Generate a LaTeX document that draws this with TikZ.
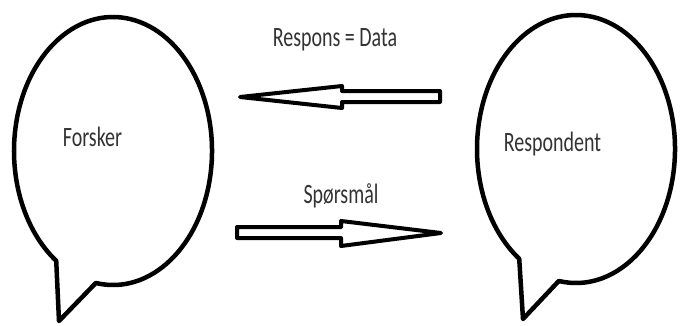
\documentclass[tikz,border=0pt]{standalone}
\usepackage{fontspec}
\usepackage{graphicx}
\setmainfont{Carlito}
\tikzset{
  bubble/.style={draw=black, line width=4.5pt, line join=round, fill=white},
  fatarrow/.style={draw=black, line width=4pt, line join=round, fill=white},
  lbl/.style={anchor=base, inner sep=0pt, text=black!80, font=\fontsize{20}{24}\selectfont},
}
\newcommand{\tallt}[1]{\scalebox{1}[1.4]{#1}}
\begin{document}
\begin{tikzpicture}[x=1pt,y=1pt]
\useasboundingbox (0,0) rectangle (680,325);
% left bubble
\coordinate (lc) at (113,174);
\coordinate (ltip) at (59,4);
\draw[bubble] (lc) ++(260:99 and 134) coordinate (lj)
  arc[start angle=260, end angle=595, x radius=99, y radius=134]
  -- (ltip) -- (lj) -- cycle;
% right bubble
\coordinate (rc) at (576,176);
\coordinate (rtip) at (523,6);
\draw[bubble] (rc) ++(260:99 and 134) coordinate (rj)
  arc[start angle=260, end angle=595, x radius=99, y radius=134]
  -- (rtip) -- (rj) -- cycle;
% labels
\node[lbl] (forsker) at (92.5,179) {\tallt{Forsker}};
\node[lbl] (respondent) at (552.5,174) {\tallt{Respondent}};
\node[lbl] (respons) at (335,279) {\tallt{Respons = Data}};
\node[lbl] (spm) at (341,122) {\tallt{Spørsmål}};
% upper arrow (pointing left)
\coordinate (ua) at (440,234);
\coordinate (utip) at (240,228);
\draw[fatarrow] (ua) -- (342,234) -- (342,239) -- (utip) -- (342,217) -- (342,223) -- (440,223) -- cycle;
% lower arrow (pointing right)
\coordinate (la) at (237,98);
\coordinate (ltipa) at (441,92);
\draw[fatarrow] (la) -- (341,98) -- (341,104) -- (ltipa) -- (341,79) -- (341,87) -- (237,87) -- cycle;
\end{tikzpicture}
\end{document}
